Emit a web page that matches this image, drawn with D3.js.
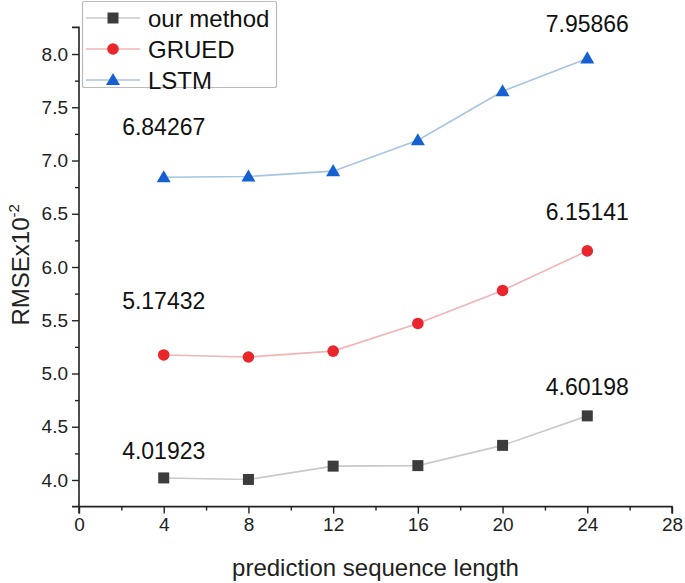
<!DOCTYPE html>
<html><head><meta charset="utf-8">
<script src="https://cdn.jsdelivr.net/npm/d3@7"></script>
<style>body{margin:0;background:#fff}svg{display:block}text{font-family:Arial,"Liberation Sans",sans-serif}</style>
</head><body>
<script>
const xValues = [4, 8, 12, 16, 20, 24];
const ourMethod = [4.01923, 4.005, 4.13, 4.135, 4.325, 4.60198];
const grued = [5.17432, 5.155, 5.21, 5.47, 5.78, 6.15141];
const lstm = [6.84267, 6.85, 6.90, 7.19, 7.65, 7.95866];
const seriesNames = ["our method", "GRUED", "LSTM"];
const xTicks = [0, 4, 8, 12, 16, 20, 24, 28];
const yTicks = [4.0, 4.5, 5.0, 5.5, 6.0, 6.5, 7.0, 7.5, 8.0];
const annotations = [
  {s: 0, i: 0, text: "4.01923"}, {s: 0, i: 5, text: "4.60198"},
  {s: 1, i: 0, text: "5.17432"}, {s: 1, i: 5, text: "6.15141"},
  {s: 2, i: 0, text: "6.84267"}, {s: 2, i: 5, text: "7.95866"}
];
const annDy = [-19, -21, -46, -31, -42, -26];

const W = 685, H = 583;
const svg = d3.select("body").append("svg").attr("width", W).attr("height", H);
const x = d3.scaleLinear().domain([0, 28]).range([79, 672]);
const y = d3.scaleLinear().domain([3.75, 8.25]).range([506.6, 27.4]);

const styles = [
  {line: "#c9c9c9", fill: "#3c3c3c", shape: "square"},
  {line: "#f2b4b4", fill: "#e8262b", shape: "circle"},
  {line: "#a8c4e4", fill: "#1561d1", shape: "triangle"}
];
const data = [ourMethod, grued, lstm];

// axes
const xAxis = svg.append("g").attr("transform", `translate(0,${y(3.75)})`)
  .call(d3.axisBottom(x).tickValues(xTicks).tickSize(7).tickPadding(4).tickFormat(d3.format("d")));
svg.append("g").attr("transform", `translate(0,${y(3.75)})`)
  .call(d3.axisBottom(x).tickValues(d3.range(2, 28, 4)).tickSize(4).tickFormat(""))
  .select(".domain").remove();
const yAxis = svg.append("g").attr("transform", `translate(${x(0)},0)`)
  .call(d3.axisLeft(y).tickValues(yTicks).tickSize(7).tickPadding(4).tickFormat(d3.format(".1f")));
svg.append("g").attr("transform", `translate(${x(0)},0)`)
  .call(d3.axisLeft(y).tickValues(d3.range(4.25, 8.25, 0.5)).tickSize(4).tickFormat(""))
  .select(".domain").remove();
svg.selectAll(".domain").attr("stroke", "#222").attr("stroke-width", 1.6);
svg.selectAll(".tick line").attr("stroke", "#222").attr("stroke-width", 1.4);
svg.selectAll(".tick text").attr("font-size", 19).attr("fill", "#222");
xAxis.select(".domain").attr("d", `M${x(0)},7V0H${x(28)}V7`);
yAxis.select(".domain").attr("d", `M-7,${y(8.25)}H0V${y(3.75)}H-7`);

// titles
svg.append("text").attr("x", (x(0) + x(28)) / 2).attr("y", 576).attr("text-anchor", "middle")
  .attr("font-size", 24).attr("fill", "#222").text("prediction sequence length");
const yl = svg.append("text").attr("transform", `translate(29,${y(6.02)}) rotate(-90)`)
  .attr("text-anchor", "middle").attr("font-size", 24).attr("fill", "#222");
yl.append("tspan").text("RMSEx10");
yl.append("tspan").attr("font-size", 15).attr("dy", -10).text("-2");

function marker(g, shape, fill, cx, cy) {
  if (shape === "square") g.append("rect").attr("x", cx - 5.5).attr("y", cy - 5.5).attr("width", 11).attr("height", 11).attr("fill", fill);
  else if (shape === "circle") g.append("circle").attr("cx", cx).attr("cy", cy).attr("r", 5.8).attr("fill", fill);
  else g.append("path").attr("d", d3.symbol(d3.symbolTriangle, 85)()).attr("transform", `translate(${cx},${cy + 1})`).attr("fill", fill);
}

const line = d3.line().x((d, i) => x(xValues[i])).y(d => y(d));
data.forEach((vals, s) => {
  const g = svg.append("g");
  g.append("path").attr("d", line(vals)).attr("fill", "none").attr("stroke", styles[s].line).attr("stroke-width", 1.6);
  vals.forEach((v, i) => marker(g, styles[s].shape, styles[s].fill, x(xValues[i]), y(v)));
});

annotations.forEach((a, k) => {
  svg.append("text").attr("x", x(xValues[a.i])).attr("y", y(data[a.s][a.i]) + annDy[k])
    .attr("text-anchor", "middle").attr("font-size", 23).attr("fill", "#111").text(a.text);
});

// legend
const lg = svg.append("g");
lg.append("rect").attr("x", 82.5).attr("y", 1.5).attr("width", 194).attr("height", 86)
  .attr("fill", "#fff").attr("stroke", "#bbb").attr("stroke-width", 1.2).attr("rx", 2);
seriesNames.forEach((n, s) => {
  const cy = 18 + s * 31;
  lg.append("line").attr("x1", 86).attr("x2", 140).attr("y1", cy).attr("y2", cy).attr("stroke", styles[s].line).attr("stroke-width", 1.6);
  marker(lg, styles[s].shape, styles[s].fill, 113, cy);
  lg.append("text").attr("x", 148).attr("y", cy + 8.5).attr("font-size", 24).attr("fill", "#111").text(n);
});
</script>
</body></html>
